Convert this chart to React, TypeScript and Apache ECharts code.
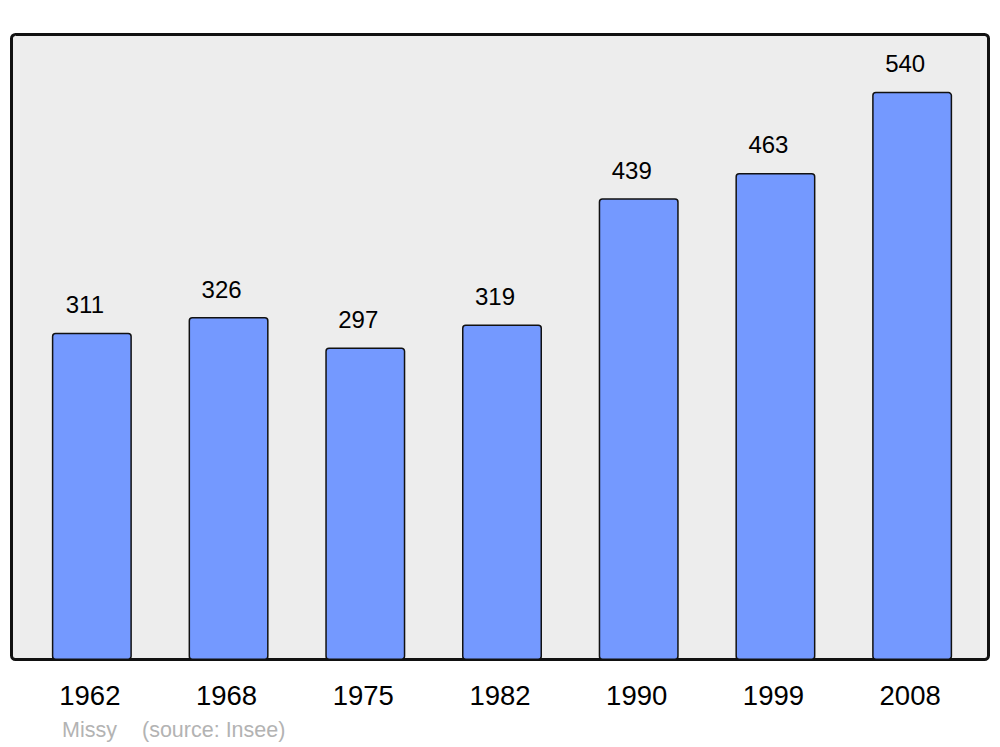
import React, { useEffect, useRef } from "react";
import * as echarts from "echarts";

const years = ["1962", "1968", "1975", "1982", "1990", "1999", "2008"];
const population = [311, 326, 297, 319, 439, 463, 540];
const townName = "Missy";
const sourceText = "(source: Insee)";

export default function App() {
  const ref = useRef<HTMLDivElement>(null);
  useEffect(() => {
    if (!ref.current) return;
    const chart = echarts.init(ref.current, undefined, { renderer: "svg" });
    const font = "'Liberation Sans', Arial, sans-serif";
    chart.setOption({
      animation: false,
      backgroundColor: "#ffffff",
      grid: { left: 23.5, top: 34, width: 957, height: 626, containLabel: false },
      xAxis: {
        type: "category",
        data: years,
        axisLine: { show: false },
        axisTick: { show: false },
        axisLabel: { fontSize: 27.5, color: "#000", fontFamily: font, margin: 21, padding: [0, 4, 0, 0] },
      },
      yAxis: {
        type: "value",
        min: 0,
        max: 595,
        show: false,
        splitLine: { show: false },
      },
      graphic: [
        {
          type: "rect",
          z: -10,
          shape: { x: 11.5, y: 34.5, width: 977, height: 625, r: 4 },
          style: { fill: "#ededed", stroke: "#111", lineWidth: 3 },
        },
        {
          type: "text",
          x: 62,
          y: 730,
          style: { text: townName, fill: "#b3b3b3", fontSize: 21.5, fontFamily: font, verticalAlign: "middle" },
        },
        {
          type: "text",
          x: 142,
          y: 730,
          style: { text: sourceText, fill: "#b3b3b3", fontSize: 21.5, fontFamily: font, verticalAlign: "middle" },
        },
      ],
      series: [
        {
          type: "bar",
          data: population,
          barWidth: 80,
          itemStyle: {
            color: "#7499ff",
            borderColor: "#111",
            borderWidth: 1.5,
            borderRadius: 3,
          },
          label: {
            show: true,
            position: "top",
            distance: 16,
            offset: [-7, 0],
            fontSize: 24,
            color: "#000",
            fontFamily: font,
          },
        },
      ],
    });
    return () => chart.dispose();
  }, []);
  return <div ref={ref} style={{ width: 1000, height: 747, position: "absolute", left: 0, top: 0 }} />;
}
